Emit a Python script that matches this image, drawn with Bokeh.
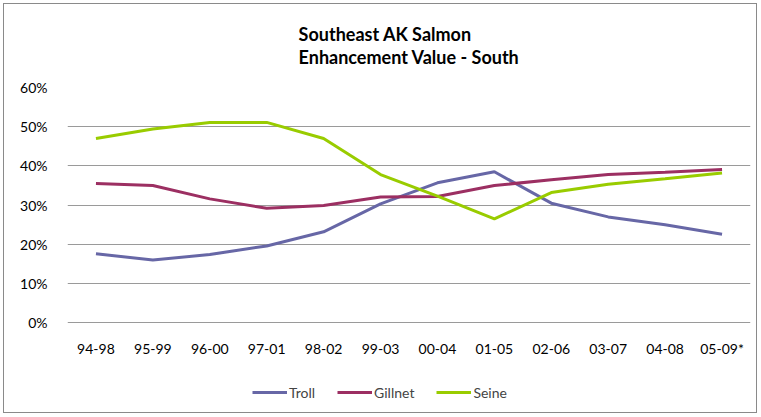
from bokeh.plotting import figure
from bokeh.models import FactorRange, Range1d, NumeralTickFormatter, FixedTicker, Legend, LegendItem
from bokeh.embed import file_html
from bokeh.resources import INLINE

periods = ["94-98", "95-99", "96-00", "97-01", "98-02", "99-03", "00-04",
           "01-05", "02-06", "03-07", "04-08", "05-09*"]
troll = [0.176, 0.160, 0.174, 0.196, 0.232, 0.303, 0.357, 0.385, 0.305, 0.270, 0.250, 0.226]
gillnet = [0.355, 0.350, 0.316, 0.292, 0.299, 0.321, 0.322, 0.350, 0.365, 0.378, 0.384, 0.391]
seine = [0.470, 0.494, 0.511, 0.511, 0.470, 0.378, 0.323, 0.265, 0.332, 0.353, 0.367, 0.382]
series_names = ["Troll", "Gillnet", "Seine"]
colors = ["#6767A6", "#9C2F62", "#99CC00"]
y_ticks = [0, 0.1, 0.2, 0.3, 0.4, 0.5, 0.6]

FONT = "Lato"

# layout: value axis spans 236 px; frame extends 90 px below 0% to hold the legend
Y_MAX = 0.6
y_start = -Y_MAX * 90 / 236

p = figure(width=754, height=410, x_range=FactorRange(*periods), y_range=Range1d(y_start, Y_MAX),
           output_backend="svg", toolbar_location=None,
           min_border_left=63, min_border_right=8, min_border_top=82, min_border_bottom=2)
p.styles = {"border": "1px solid #8a8a8a", "margin": "3px 0 0 3px"}

p.title.text = "Southeast AK Salmon\nEnhancement Value - South"
p.title.align = "center"
p.title.vertical_align = "top"
p.title.text_font = FONT
p.title.text_font_size = "18px"
p.title.text_font_style = "bold"
p.title.text_color = "#000000"
p.title.text_line_height = 1.06
p.title.standoff = 36

p.outline_line_color = None
p.xgrid.grid_line_color = None
p.ygrid.grid_line_color = "#9a9a9a"
p.ygrid.grid_line_width = 1

p.yaxis.ticker = FixedTicker(ticks=y_ticks)
p.yaxis.formatter = NumeralTickFormatter(format="0%")
p.xaxis.fixed_location = 0
for ax in (p.xaxis, p.yaxis):
    ax.axis_line_color = None
    ax.major_tick_line_color = None
    ax.minor_tick_line_color = None
    ax.major_label_text_font = FONT
    ax.major_label_text_font_size = "14px"
    ax.major_label_text_color = "#000000"
p.yaxis.major_label_standoff = 14
p.xaxis.major_label_standoff = 11

items = []
for name, vals, c in zip(series_names, [troll, gillnet, seine], colors):
    r = p.line(periods, vals, line_color=c, line_width=3)
    items.append(LegendItem(label=name, renderers=[r]))

legend = Legend(items=items, orientation="horizontal", location=(185, 10),
                label_text_font=FONT, label_text_font_size="14px",
                glyph_width=35, label_standoff=2, spacing=22,
                border_line_color=None, background_fill_alpha=0,
                margin=0, padding=4)
p.add_layout(legend, "center")

open("out.html", "w").write(file_html(p, INLINE))
